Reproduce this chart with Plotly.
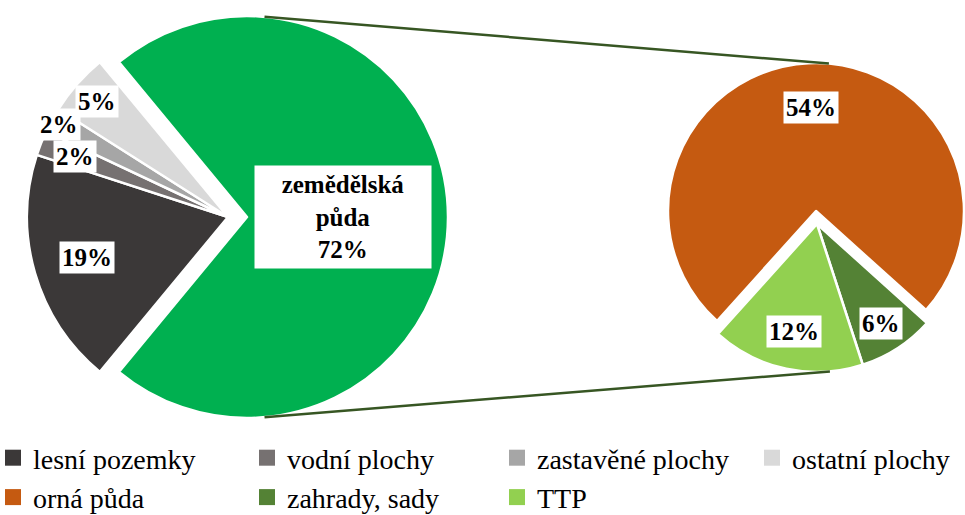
import math
import plotly.graph_objects as go

# ---------------- data ----------------
main_labels = ["zemědělská půda", "lesní pozemky", "vodní plochy", "zastavěné plochy", "ostatní plochy"]
main_values = [72, 19, 2, 2, 5]
sub_labels = ["orná půda", "zahrady, sady", "TTP"]
sub_values = [54, 6, 12]

# ---------------- styles ----------------
main_colors = ["#00B050", "#3B3838", "#767171", "#A6A6A6", "#D9D9D9"]
sub_colors = ["#C55A11", "#548235", "#92D050"]
line_color = "#375623"
FONT = "Liberation Serif"

W, H = 965, 515

def px_x(x):
    return x / W

def px_y(y):
    return (H - y) / H

def domain(cx, cy, r):
    return dict(x=[max(0, (cx - r) / W), min(1, (cx + r) / W)],
                y=[max(0, (H - (cy + r)) / H), min(1, (H - (cy - r)) / H)])

# geometry (pixels)
R1 = 201
main_big_c = (247, 217)     # exploded main slice
main_rest_c = (228, 217)
R2 = 148
sub_big_c = (816, 211)
sub_rest_c = (817, 224)     # exploded small slices

main_start = 360 * main_values[0] / sum(main_values) / 2   # math angle of first edge
sub_start = 228

def rotation_from(start):
    return 90 - start

TRANSP = "rgba(0,0,0,0)"
fig = go.Figure()

def pie_part(values, labels, colors, visible_idx, center, r, start):
    cols = [c if i in visible_idx else TRANSP for i, c in enumerate(colors)]
    lw = [2.5 if i in visible_idx else 0 for i in range(len(values))]
    return go.Pie(values=values, labels=labels, sort=False, direction="clockwise",
                  rotation=rotation_from(start), domain=domain(center[0], center[1], r),
                  marker=dict(colors=cols, line=dict(color="white", width=lw)),
                  textinfo="none", hoverinfo="label+value", showlegend=False)

fig.add_trace(pie_part(main_values, main_labels, main_colors, [1, 2, 3, 4], main_rest_c, R1, main_start))
fig.add_trace(pie_part(main_values, main_labels, main_colors, [0], main_big_c, R1, main_start))
fig.add_trace(pie_part(sub_values, sub_labels, sub_colors, [0], sub_big_c, R2, sub_start))
fig.add_trace(pie_part(sub_values, sub_labels, sub_colors, [1, 2], sub_rest_c, R2, sub_start))

# legend entries: 4 columns, two rows (row-major as in the reference)
legend_labels = main_labels[1:] + sub_labels
legend_colors = main_colors[1:] + sub_colors
legend_names = ["legend", "legend2", "legend3", "legend4"]
for k, (lab, col) in enumerate(zip(legend_labels, legend_colors)):
    fig.add_trace(go.Scatter(x=[None], y=[None], mode="markers", name=lab,
                             legend=legend_names[k % 4],
                             marker=dict(symbol="square", size=17, color=col, line=dict(width=0)),
                             showlegend=True, hoverinfo="skip"))

# data labels
def mid_angles(values, start):
    tot = sum(values)
    out, a = [], start
    for v in values:
        span = 360 * v / tot
        out.append(a - span / 2)
        a -= span
    return out

LBL = dict(family=FONT, size=25, color="black", weight="bold")
annots = []
main_f = [0.48, 0.73, 0.82, 0.96, 0.87]
for i, (v, th) in enumerate(zip(main_values, mid_angles(main_values, main_start))):
    c = main_big_c if i == 0 else main_rest_c
    x = c[0] + main_f[i] * R1 * math.cos(math.radians(th))
    y = c[1] - main_f[i] * R1 * math.sin(math.radians(th))
    if i == 0:
        txt = "zemědělská<br>půda<br>%d%%" % v
        extra = dict(width=166, borderpad=5)
    else:
        txt = "%d%%" % v
        extra = dict(borderpad=2)
    annots.append(dict(x=px_x(x), y=px_y(y), xref="paper", yref="paper", text=txt, showarrow=False,
                       bgcolor="white", font=LBL,
                       xanchor="center", yanchor="middle", align="center", **extra))
sub_f = [0.70, 0.80, 0.74]
for i, (v, th) in enumerate(zip(sub_values, mid_angles(sub_values, sub_start))):
    c = sub_big_c if i == 0 else sub_rest_c
    x = c[0] + sub_f[i] * R2 * math.cos(math.radians(th))
    y = c[1] - sub_f[i] * R2 * math.sin(math.radians(th))
    annots.append(dict(x=px_x(x), y=px_y(y), xref="paper", yref="paper", text="%d%%" % v, showarrow=False,
                       bgcolor="white", font=LBL,
                       xanchor="center", yanchor="middle", borderpad=2))

# connector lines
shapes = []
for ang, c2 in [(85, sub_big_c), (-85, sub_rest_c)]:
    x0 = main_big_c[0] + R1 * math.cos(math.radians(ang))
    y0 = main_big_c[1] - R1 * math.sin(math.radians(ang))
    x1 = c2[0] + R2 * math.cos(math.radians(ang))
    y1 = c2[1] - R2 * math.sin(math.radians(ang))
    shapes.append(dict(type="line", xref="paper", yref="paper", x0=px_x(x0), y0=px_y(y0),
                       x1=px_x(x1), y1=px_y(y1), line=dict(color=line_color, width=2.5), layer="above"))

legend_cols_px = [-7, 247, 497, 752]
legend_layouts = {}
for name, lx in zip(legend_names, legend_cols_px):
    legend_layouts[name] = dict(orientation="v", x=lx / W, xanchor="left", y=px_y(433), yanchor="top",
                                traceorder="normal", font=dict(family=FONT, size=28, color="black"),
                                bgcolor="rgba(0,0,0,0)", itemwidth=30, tracegroupgap=0)

fig.update_layout(
    width=W, height=H,
    margin=dict(l=0, r=0, t=0, b=0, autoexpand=False),
    paper_bgcolor="white", plot_bgcolor="rgba(0,0,0,0)",
    xaxis=dict(visible=False), yaxis=dict(visible=False),
    annotations=annots, shapes=shapes,
    **legend_layouts,
)

fig.write_html("out.html", config={"displayModeBar": False},
               post_script="document.body.style.margin='0px';")
